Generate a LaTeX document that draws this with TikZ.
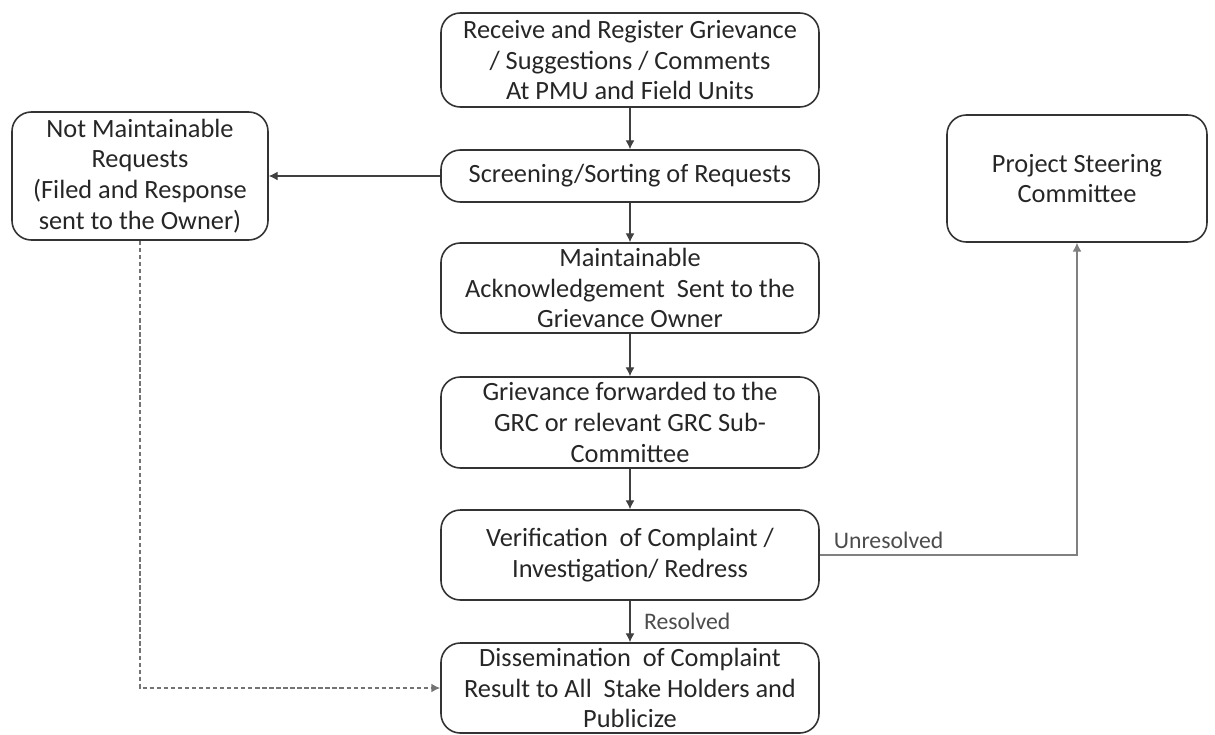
\documentclass[tikz,border=0pt]{standalone}
\usepackage{fontspec}
\setmainfont{Carlito}
\usetikzlibrary{arrows.meta}
\begin{document}
\begin{tikzpicture}[
    stepbox/.style={draw=black!80, line width=0.9pt, rounded corners=11pt, align=center,
      minimum width=7.56cm, inner sep=1pt, font=\fontsize{15}{17.5}\selectfont, text=black!85},
    link/.style={-{Latex[length=5pt,width=5pt]}, black!75, line width=0.6pt},
    lbl/.style={font=\fontsize{13.5}{16}\selectfont, text=black!70, inner sep=2pt}
  ]
      \useasboundingbox (0,0) rectangle (24.3,-14.68);
      \node[stepbox, minimum height=1.88cm] (receive) at (12.6,-1.2) {Receive and Register Grievance\\/ Suggestions / Comments\\At PMU and Field Units};
      \node[stepbox, minimum height=1.04cm] (screening) at (12.6,-3.52) {Screening/Sorting of Requests};
      \node[stepbox, minimum height=1.8cm] (acknowledge) at (12.6,-5.76) {Maintainable\\Acknowledgement\ \ Sent to the\\Grievance Owner};
      \node[stepbox, minimum height=1.82cm] (forward) at (12.6,-8.45) {Grievance forwarded to the\\GRC or relevant GRC Sub-\\Committee};
      \node[stepbox, minimum height=1.8cm] (verify) at (12.6,-11.1) {Verification\ \ of Complaint /\\Investigation/ Redress};
      \node[stepbox, minimum height=1.8cm] (publish) at (12.6,-13.76) {Dissemination\ \ of Complaint\\Result to All\ \ Stake Holders and\\Publicize};
      \node[stepbox, minimum width=5.12cm, minimum height=2.56cm] (rejected) at (2.8,-3.52) {Not Maintainable\\Requests\\(Filed and Response\\sent to the Owner)};
      \node[stepbox, minimum width=5.2cm, minimum height=2.54cm] (steering) at (21.54,-3.57) {Project Steering\\Committee};
      \coordinate (corner) at (rejected.south |- publish.west);
      \coordinate (turn) at (steering.south |- verify.east);
      \draw[link] (receive) -- (screening);
      \draw[link] (screening) -- (acknowledge);
      \draw[link] (acknowledge) -- (forward);
      \draw[link] (forward) -- (verify);
      \draw[link] (verify) -- node[lbl, right=0.2cm] {Resolved} (publish);
      \draw[link] (screening) -- (rejected);
      \draw[link, dash pattern=on 2.5pt off 1.5pt, black!55, line width=0.9pt] (rejected) -- (corner) -- (publish.west);
      \draw[link, black!50] (verify.east) -- node[lbl, anchor=south west, pos=0, xshift=0.2cm, yshift=0.05cm] {Unresolved} (turn) -- (steering);
    \end{tikzpicture}
\end{document}
